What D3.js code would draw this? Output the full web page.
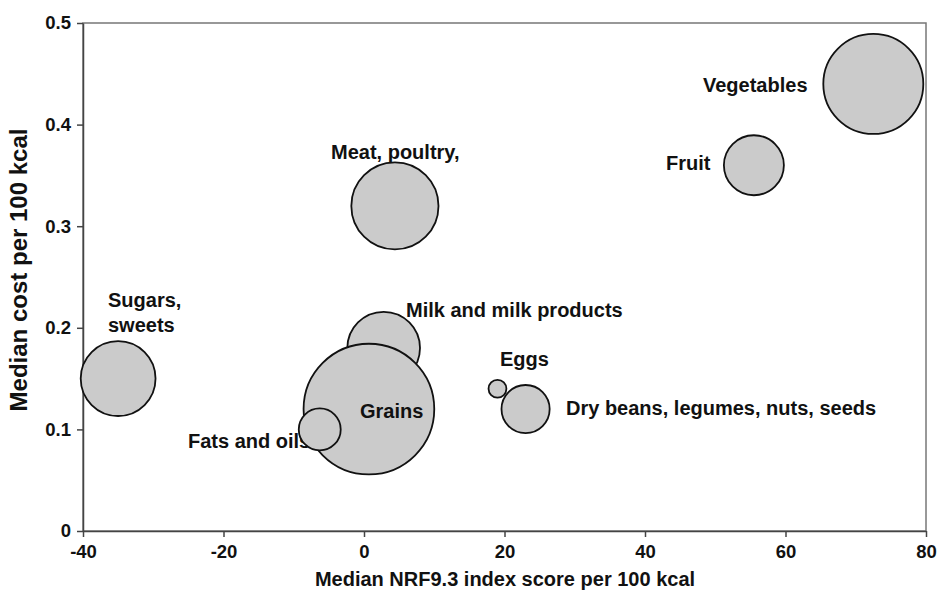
<!DOCTYPE html>
<meta charset="utf-8">
<title>Cost vs NRF9.3 bubble chart</title>
<style>
  body { margin: 0; background: #fff; }
  svg text { font-family: "Liberation Sans", Arial, sans-serif; font-weight: bold; fill: #111; }
</style>
<body>
<script src="https://cdn.jsdelivr.net/npm/d3@7"></script>
<script>
// data
var groups = ['Vegetables', 'Fruit', 'Meat, poultry,', 'Sugars, sweets', 'Milk and milk products',
              'Grains', 'Fats and oils', 'Eggs', 'Dry beans, legumes, nuts, seeds'];
var nrfScore = [72.5, 55.5, 4.4, -35, 2.8, 0.7, -6.3, 19, 23];
var medianCost = [0.44, 0.36, 0.32, 0.15, 0.18, 0.12, 0.10, 0.14, 0.12];
var bubbleSize = [25, 9, 19, 14, 13.2, 42.7, 4.4, 0.8, 5.8];
var xTicks = [-40, -20, 0, 20, 40, 60, 80];
var yTicks = [0, 0.1, 0.2, 0.3, 0.4, 0.5];

var width = 937, height = 592;
var margin = {left: 83, right: 11, top: 23, bottom: 61};

var svg = d3.select('body').append('svg')
    .attr('width', width)
    .attr('height', height);

var x = d3.scaleLinear().domain([-40, 80]).range([margin.left, width - margin.right]);
var y = d3.scaleLinear().domain([0, 0.5]).range([height - margin.bottom, margin.top]);
var r = d3.scaleSqrt().domain([0, 100]).range([0, 100]);

// frame
svg.append('rect')
    .attr('x', x(-40)).attr('y', y(0.5))
    .attr('width', x(80) - x(-40)).attr('height', y(0) - y(0.5))
    .style('fill', 'none').style('stroke', '#777').style('stroke-width', 1.5);

// axes (plain hyphen for negatives, like the original)
var xAxis = svg.append('g')
    .attr('transform', 'translate(0,' + y(0) + ')')
    .call(d3.axisBottom(x).tickValues(xTicks).tickSize(6).tickPadding(8).tickSizeOuter(0)
      .tickFormat(function(d) { return String(d); }));
var yAxis = svg.append('g')
    .attr('transform', 'translate(' + x(-40) + ',0)')
    .call(d3.axisLeft(y).tickValues(yTicks).tickSize(6).tickPadding(6).tickSizeOuter(0)
      .tickFormat(function(d) { return d === 0 ? '0' : d.toFixed(1); }));
[xAxis, yAxis].forEach(function(a) {
  a.selectAll('path, line').style('stroke', '#444').style('stroke-width', 1.5);
  a.selectAll('text').style('font-size', '18.5px')
    .style('font-family', '"Liberation Sans", Arial, sans-serif').style('font-weight', 'bold').style('fill', '#111');
});

// axis titles
svg.append('text')
    .attr('x', 505)
    .attr('y', 586)
    .attr('text-anchor', 'middle')
    .style('font-size', '20px')
    .text('Median NRF9.3 index score per 100 kcal');
svg.append('text')
    .attr('transform', 'translate(27,270) rotate(-90)')
    .attr('text-anchor', 'middle')
    .style('font-size', '24px')
    .text('Median cost per 100 kcal');

// label positions (pixel anchor of each label's first line)
var labelPos = {
  'Vegetables': [703, 92],
  'Fruit': [666, 170],
  'Meat, poultry,': [331, 159],
  'Sugars, sweets': [108, 307],
  'Milk and milk products': [406, 317],
  'Grains': [360, 418],
  'Fats and oils': [188, 448],
  'Eggs': [500, 366],
  'Dry beans, legumes, nuts, seeds': [566, 415]
};

function drawLabel(name) {
  var p = labelPos[name];
  var lines = name === 'Sugars, sweets' ? ['Sugars,', 'sweets'] : [name];
  var t = svg.append('text').attr('x', p[0]).attr('y', p[1]).style('font-size', '20px');
  lines.forEach(function(l, i) {
    t.append('tspan').attr('x', p[0]).attr('dy', i === 0 ? 0 : 25).text(l);
  });
}

// the fats label sits under its bubble
drawLabel('Fats and oils');

var data = groups.map(function(g, i) {
  return {name: g, nrf: nrfScore[i], cost: medianCost[i], size: bubbleSize[i]};
});

svg.selectAll('circle.bubble')
  .data(data)
  .enter().append('circle')
    .attr('class', 'bubble')
    .attr('cx', function(d) { return x(d.nrf); })
    .attr('cy', function(d) { return y(d.cost); })
    .attr('r', function(d) { return r(d.size); })
    .style('fill', '#cbcbcb')
    .style('stroke', '#111')
    .style('stroke-width', 1.8);

groups.forEach(function(g) {
  if (g !== 'Fats and oils') drawLabel(g);
});
</script>
</body>
